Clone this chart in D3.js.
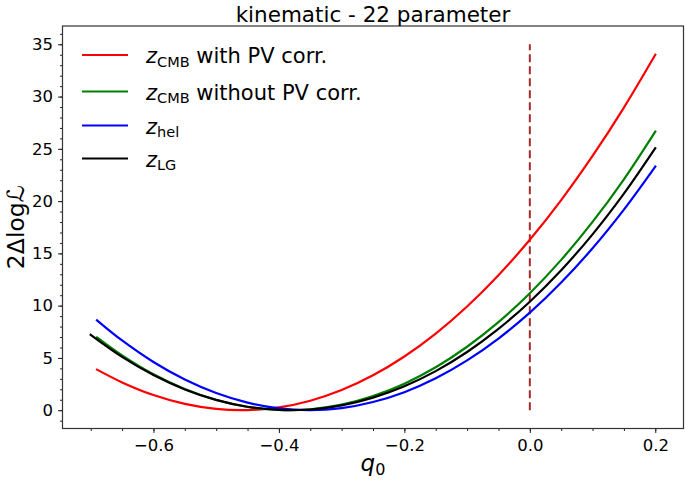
<!DOCTYPE html>
<html>
<head>
<meta charset="utf-8">
<script src="https://cdn.jsdelivr.net/npm/d3@7"></script>
<style>
  html, body { margin: 0; padding: 0; background: #fff; }
  svg { display: block; }
  text { font-family: "DejaVu Sans", sans-serif; fill: #000; }
</style>
</head>
<body>
<svg id="chart" width="685" height="482"></svg>
<script>
// ---- data ----
const title = "kinematic - 22 parameter";
const q0 = [-0.69, -0.65, -0.60, -0.55, -0.50, -0.45, -0.40, -0.35, -0.30, -0.25,
            -0.20, -0.15, -0.10, -0.05, 0.00, 0.05, 0.10, 0.15, 0.20];
const q0LG = [-0.70, -0.65, -0.60, -0.55, -0.50, -0.45, -0.40, -0.35, -0.30, -0.25,
              -0.20, -0.15, -0.10, -0.05, 0.00, 0.05, 0.10, 0.15, 0.20];
const zCMBwithPV = [3.88, 2.66, 1.45, 0.60, 0.12, 0.01, 0.27, 0.91, 1.93, 3.34,
                    5.14, 7.33, 9.92, 12.91, 16.30, 20.10, 24.32, 28.95, 34.00];
const zCMBnoPV = [6.96, 5.24, 3.43, 2.02, 0.98, 0.31, 0.02, 0.09, 0.53, 1.35,
                  2.54, 4.11, 6.07, 8.42, 11.19, 14.38, 18.01, 22.09, 26.65];
const zHel = [8.60, 6.67, 4.61, 2.93, 1.64, 0.72, 0.17, 0.00, 0.20, 0.78,
              1.72, 3.05, 4.76, 6.85, 9.33, 12.21, 15.49, 19.19, 23.30];
const zLG = [7.21, 5.10, 3.36, 1.99, 0.99, 0.33, 0.03, 0.07, 0.46, 1.20,
             2.29, 3.74, 5.57, 7.78, 10.38, 13.39, 16.82, 20.71, 25.06];
const refLineX = [0.0, 0.0];
const refLineY = [0, 35];
const xTicks = [-0.6, -0.4, -0.2, 0.0, 0.2];
const yTicks = [0, 5, 10, 15, 20, 25, 30, 35];
const seriesNames = ["with PV corr.", "without PV corr.", "", ""];
const seriesSubs = ["CMB", "CMB", "hel", "LG"];
const seriesColors = ["#ff0000", "#008000", "#0000ff", "#000000"];

// ---- layout ----
const svg = d3.select("#chart");
const mLeft = 62.5, mRight = 683.5, mTop = 26, mBottom = 428.5;
const x = d3.scaleLinear().domain([-0.745, 0.245]).range([mLeft, mRight]);
const y = d3.scaleLinear().domain([-1.75, 36.75]).range([mBottom, mTop]);

// minor ticks
const xMinor = d3.range(-0.70, 0.2501, 0.05).map(v => +v.toFixed(2));
const yMinor = d3.range(-1, 37, 1);

const gx = svg.append("g").attr("transform", `translate(0,${mBottom})`);
gx.call(d3.axisBottom(x).tickValues(xMinor).tickSize(2.5).tickFormat(""))
  .call(g => g.select(".domain").remove());
gx.append("g").call(d3.axisBottom(x).tickValues(xTicks).tickSize(4.5).tickPadding(6)
  .tickFormat(d => d3.format(".1f")(d).replace("-", "\u2212")))
  .call(g => g.select(".domain").remove());
gx.selectAll("text").attr("font-size", 16.5).attr("font-family", "DejaVu Sans").attr("fill", "#000");
gx.selectAll("line").attr("stroke", "#222");

const gy = svg.append("g").attr("transform", `translate(${mLeft},0)`);
gy.call(d3.axisLeft(y).tickValues(yMinor).tickSize(2.5).tickFormat(""))
  .call(g => g.select(".domain").remove());
gy.append("g").call(d3.axisLeft(y).tickValues(yTicks).tickSize(4.5).tickPadding(5))
  .call(g => g.select(".domain").remove());
gy.selectAll("text").attr("font-size", 16.5).attr("font-family", "DejaVu Sans").attr("fill", "#000");
gy.selectAll("line").attr("stroke", "#222");

// clip
svg.append("clipPath").attr("id", "clip").append("rect")
  .attr("x", mLeft).attr("y", mTop).attr("width", mRight - mLeft).attr("height", mBottom - mTop);

const plot = svg.append("g").attr("clip-path", "url(#clip)");
const line = d3.line().x(d => x(d[0])).y(d => y(d[1])).curve(d3.curveCatmullRom.alpha(0.5));

// reference dashed line
plot.append("path")
  .datum(refLineX.map((v, i) => [v, refLineY[i]]))
  .attr("d", d3.line().x(d => x(d[0])).y(d => y(d[1])))
  .attr("stroke", "#a52a2a").attr("stroke-width", 2).attr("stroke-dasharray", "8,4")
  .attr("fill", "none");

const series = [
  { xs: q0, ys: zCMBwithPV },
  { xs: q0, ys: zCMBnoPV },
  { xs: q0, ys: zHel },
  { xs: q0LG, ys: zLG }
];
series.forEach((s, i) => {
  plot.append("path")
    .datum(s.xs.map((v, j) => [v, s.ys[j]]))
    .attr("d", line)
    .attr("fill", "none")
    .attr("stroke", seriesColors[i])
    .attr("stroke-width", 2.2)
    .attr("stroke-linecap", "square");
});

// frame
svg.append("rect").attr("x", mLeft).attr("y", mTop)
  .attr("width", mRight - mLeft).attr("height", mBottom - mTop)
  .attr("fill", "none").attr("stroke", "#333").attr("stroke-width", 1.2);

// legend
const legendY = [55, 91.5, 125.5, 158.5];
const lg = svg.append("g");
seriesSubs.forEach((sub, i) => {
  lg.append("line").attr("x1", 82).attr("x2", 128)
    .attr("y1", legendY[i]).attr("y2", legendY[i])
    .attr("stroke", seriesColors[i]).attr("stroke-width", 2.2);
  const t = lg.append("text").attr("x", 146).attr("y", legendY[i] + 8).attr("font-size", 21);
  t.append("tspan").attr("font-style", "italic").text("z");
  t.append("tspan").attr("font-size", 14.5).attr("dy", 3.5).text(sub);
  if (seriesNames[i]) t.append("tspan").attr("dy", -3.5).text(" " + seriesNames[i]);
});

// title
svg.append("text").attr("x", (mLeft + mRight) / 2).attr("y", 21.5)
  .attr("text-anchor", "middle").attr("font-size", 21.5).text(title);

// axis labels
const xl = svg.append("text").attr("x", (mLeft + mRight) / 2).attr("y", 471)
  .attr("text-anchor", "middle").attr("font-size", 23);
xl.append("tspan").attr("font-style", "italic").text("q");
xl.append("tspan").attr("font-size", 16).attr("dy", 4).text("0");

svg.append("text")
  .attr("transform", `translate(24,${(mTop + mBottom) / 2}) rotate(-90)`)
  .attr("text-anchor", "middle").attr("font-size", 23.5)
  .text("2Δlog\u2112");
</script>
</body>
</html>
